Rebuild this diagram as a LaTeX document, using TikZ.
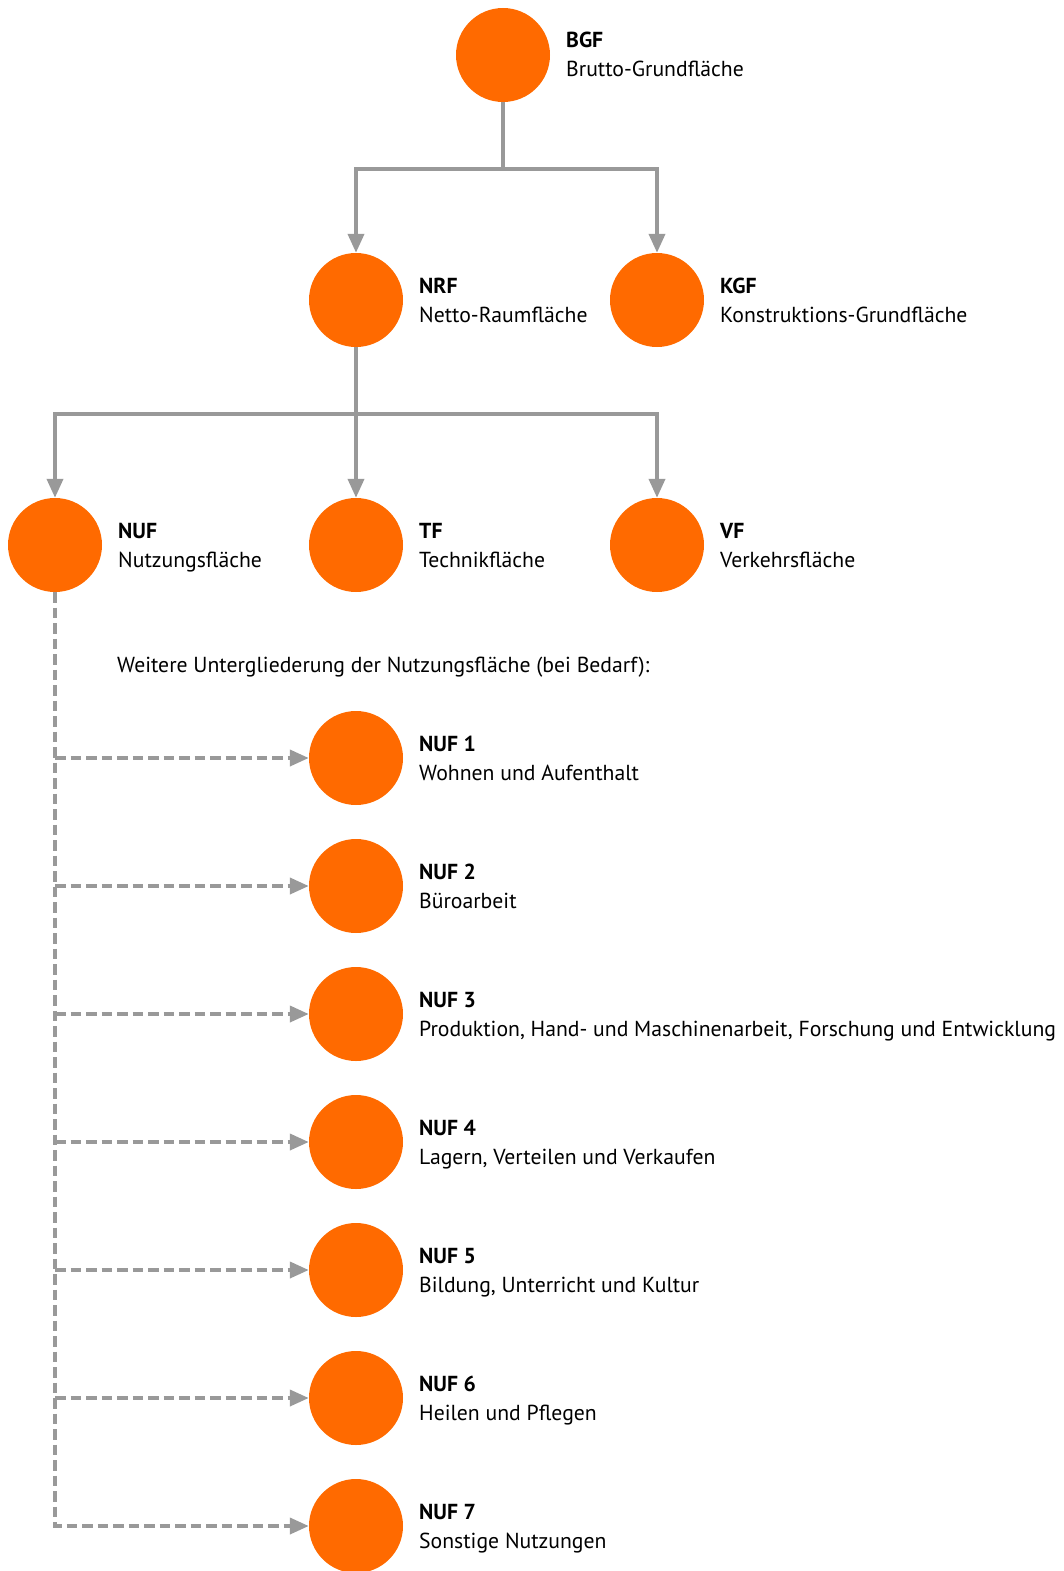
\documentclass[tikz,border=0pt]{standalone}
\usepackage{fontspec}
\setmainfont{PT Sans}
\usetikzlibrary{arrows.meta}
\definecolor{orng}{RGB}{255,106,0}
\definecolor{lgray}{RGB}{153,153,153}
\begin{document}
\begin{tikzpicture}[x=1pt,y=-1pt,
  dot/.style={circle,fill=orng,minimum size=94pt,inner sep=0pt},
  lbl/.style={anchor=base west,inner sep=0pt,font=\fontsize{21.7}{25}\selectfont\bfseries},
  nam/.style={anchor=base west,inner sep=0pt,font=\fontsize{21.7}{25}\selectfont},
  conn/.style={draw=lgray,line width=3.8pt,-{Triangle[length=19pt,width=16pt]}},
  plain/.style={draw=lgray,line width=3.8pt},
  dconn/.style={draw=lgray,line width=3.8pt,dash pattern=on 10.5pt off 5pt,-{Triangle[length=19pt,width=16pt]}}
]
\useasboundingbox (0,0) rectangle (1063,1571);
% nodes
\newcommand\mknode[5]{%
  \node[dot] (#1) at (#2,#3) {};
  \node[lbl] (#1l) at (#2+63,#3-7) {#4};
  \node[nam] (#1n) at (#2+63,#3+22) {#5};
}
\mknode{bgf}{503}{55}{BGF}{Brutto-Grundfläche}
\mknode{nrf}{356}{300}{NRF}{Netto-Raumfläche}
\mknode{kgf}{657}{300}{KGF}{Konstruktions-Grundfläche}
\mknode{nuf}{55}{545}{NUF}{Nutzungsfläche}
\mknode{tf}{356}{545}{TF}{Technikfläche}
\mknode{vf}{657}{545}{VF}{Verkehrsfläche}
\node[nam] (note) at (117,672) {Weitere Untergliederung der Nutzungsfläche (bei Bedarf):};
\mknode{nufa}{356}{758}{NUF 1}{Wohnen und Aufenthalt}
\mknode{nufb}{356}{886}{NUF 2}{Büroarbeit}
\mknode{nufc}{356}{1014}{NUF 3}{Produktion, Hand- und Maschinenarbeit, Forschung und Entwicklung}
\mknode{nufd}{356}{1142}{NUF 4}{Lagern, Verteilen und Verkaufen}
\mknode{nufe}{356}{1270}{NUF 5}{Bildung, Unterricht und Kultur}
\mknode{nuff}{356}{1398}{NUF 6}{Heilen und Pflegen}
\mknode{nufg}{356}{1526}{NUF 7}{Sonstige Nutzungen}
% connectors
\coordinate (j1) at (503,169);
\coordinate (j2) at (356,414);
\draw[plain] (bgf.south) -- (j1);
\draw[conn] (j1) -| (nrf.north);
\draw[conn] (j1) -| (kgf.north);
\draw[plain] (nrf.south) -- (j2);
\draw[conn] (j2) -| (nuf.north);
\draw[conn] (j2) -- (tf.north);
\draw[conn] (j2) -| (vf.north);
\draw[dconn] (nuf.south) |- (nufg.west);
\foreach \n in {nufa,nufb,nufc,nufd,nufe,nuff}{
  \draw[dconn] (nuf.south |- \n.west) -- (\n.west);
}
\end{tikzpicture}
\end{document}
